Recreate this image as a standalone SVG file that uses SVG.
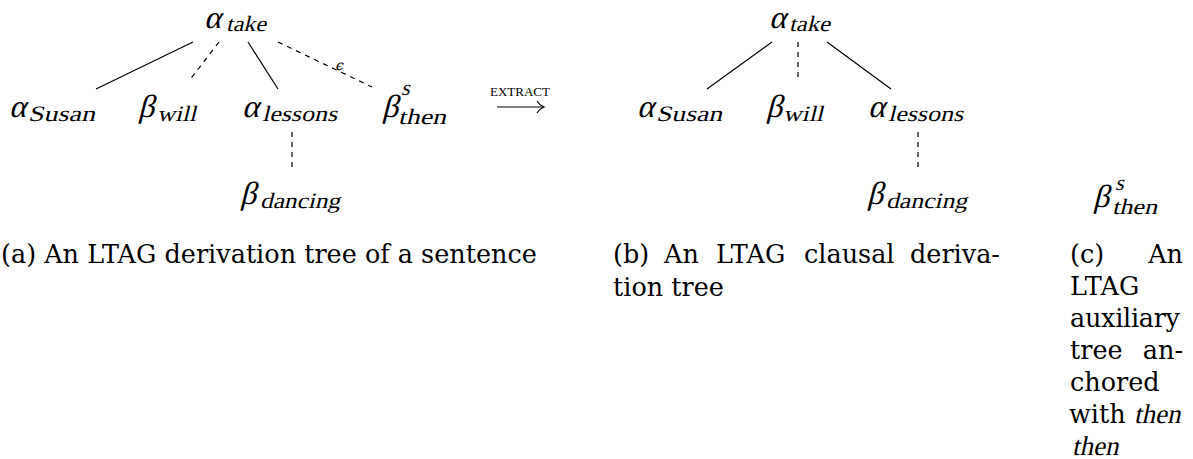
<svg xmlns="http://www.w3.org/2000/svg" width="1193" height="459" viewBox="0 0 1193 459">
<style>
.g{font-family:"Liberation Serif",serif;font-size:32px;fill:#000}
.s{font-family:"Liberation Serif",serif;font-size:22px;fill:#000}
.cap{font-family:"DejaVu Serif",serif;font-size:25.5px;fill:#000}
.capi{font-family:"Liberation Serif",serif;font-size:27px;fill:#000}
.solid{stroke:#000;stroke-width:1.2;fill:none}
.dash{stroke:#000;stroke-width:1.2;fill:none;stroke-dasharray:5 5}
</style>
<rect width="1193" height="459" fill="#fff"/>
<g id="connectors">
<line class="solid" x1="193" y1="42" x2="96" y2="89"/>
<line class="dash" x1="219" y1="42" x2="189" y2="81"/>
<line class="solid" x1="248" y1="42" x2="278" y2="89"/>
<line class="dash" x1="278" y1="42" x2="372" y2="87"/>
<text transform="translate(335,70) skewX(-14)" style="font-family:'DejaVu Serif',serif;font-size:14px">ϵ</text>
<line class="dash" x1="292" y1="132" x2="292" y2="172"/>
<line class="solid" x1="772" y1="42" x2="707" y2="89"/>
<line class="dash" x1="798" y1="42" x2="798" y2="80"/>
<line class="solid" x1="827" y1="42" x2="891" y2="89"/>
<line class="dash" x1="918" y1="132" x2="918" y2="172"/>
</g>
<g id="extract">
<text x="490" y="96" textLength="60" lengthAdjust="spacingAndGlyphs" style="font-family:'Liberation Serif',serif;font-size:12.5px">EXTRACT</text>
<line class="solid" x1="497" y1="107" x2="543" y2="107"/>
<path class="solid" d="M537,101 Q540,105.5 544,107 Q540,108.5 537,113"/>
</g>
<g id="a-take"><text class="g" transform="translate(204,28) skewX(-14)">α</text><text class="s" transform="translate(226,31) skewX(-14)" textLength="40" lengthAdjust="spacingAndGlyphs">take</text></g>
<g id="a-susan"><text class="g" transform="translate(9,117) skewX(-14)">α</text><text class="s" transform="translate(28,121) skewX(-14)" textLength="67" lengthAdjust="spacingAndGlyphs">Susan</text></g>
<g id="a-will"><text class="g" transform="translate(138,117) skewX(-14)">β</text><text class="s" transform="translate(157,121) skewX(-14)" textLength="39" lengthAdjust="spacingAndGlyphs">will</text></g>
<g id="a-lessons"><text class="g" transform="translate(242,117) skewX(-14)">α</text><text class="s" transform="translate(262,121) skewX(-14)" textLength="75" lengthAdjust="spacingAndGlyphs">lessons</text></g>
<g id="a-then"><text class="g" transform="translate(382,117) skewX(-14)">β</text><text class="s" transform="translate(401,95) skewX(-14)">s</text><text class="s" transform="translate(398,124) skewX(-14)" textLength="48" lengthAdjust="spacingAndGlyphs">then</text></g>
<g id="a-dancing"><text class="g" transform="translate(240,204) skewX(-14)">β</text><text class="s" transform="translate(260,208) skewX(-14)" textLength="80" lengthAdjust="spacingAndGlyphs">dancing</text></g>
<g id="b-take"><text class="g" transform="translate(769,28) skewX(-14)">α</text><text class="s" transform="translate(789,31) skewX(-14)" textLength="41" lengthAdjust="spacingAndGlyphs">take</text></g>
<g id="b-susan"><text class="g" transform="translate(637,117) skewX(-14)">α</text><text class="s" transform="translate(656,121) skewX(-14)" textLength="66" lengthAdjust="spacingAndGlyphs">Susan</text></g>
<g id="b-will"><text class="g" transform="translate(766,117) skewX(-14)">β</text><text class="s" transform="translate(783,121) skewX(-14)" textLength="40" lengthAdjust="spacingAndGlyphs">will</text></g>
<g id="b-lessons"><text class="g" transform="translate(868,117) skewX(-14)">α</text><text class="s" transform="translate(888,121) skewX(-14)" textLength="75" lengthAdjust="spacingAndGlyphs">lessons</text></g>
<g id="b-dancing"><text class="g" transform="translate(867,204) skewX(-14)">β</text><text class="s" transform="translate(886,208) skewX(-14)" textLength="81" lengthAdjust="spacingAndGlyphs">dancing</text></g>
<g id="c-then"><text class="g" transform="translate(1093,207) skewX(-14)">β</text><text class="s" transform="translate(1115,190) skewX(-14)">s</text><text class="s" transform="translate(1112,214) skewX(-14)" textLength="45" lengthAdjust="spacingAndGlyphs">then</text></g>
<g id="caption-a"><text class="cap" x="1" y="263">(a) An LTAG derivation tree of a sentence</text></g>
<g id="caption-b">
<text class="cap" x="613" y="263">(b)</text>
<text class="cap" x="664" y="263">An</text>
<text class="cap" x="716" y="263">LTAG</text>
<text class="cap" x="804" y="263">clausal</text>
<text class="cap" x="1000" y="263" text-anchor="end">deriva-</text>
<text class="cap" x="613" y="296">tion tree</text>
</g>
<g id="caption-c">
<text class="cap" x="1070" y="263">(c)</text>
<text class="cap" x="1183" y="263" text-anchor="end">An</text>
<text class="cap" x="1070" y="295">LTAG</text>
<text class="cap" x="1070" y="327" textLength="110">auxiliary</text>
<text class="cap" x="1070" y="359">tree</text>
<text class="cap" x="1183" y="359" text-anchor="end">an-</text>
<text class="cap" x="1070" y="391">chored</text>
<text class="cap" x="1069" y="423">with</text>
<text class="capi" transform="translate(1134,423) skewX(-12)">then</text>
<text class="capi" transform="translate(1072,455) skewX(-12)">then</text>
</g>
</svg>
